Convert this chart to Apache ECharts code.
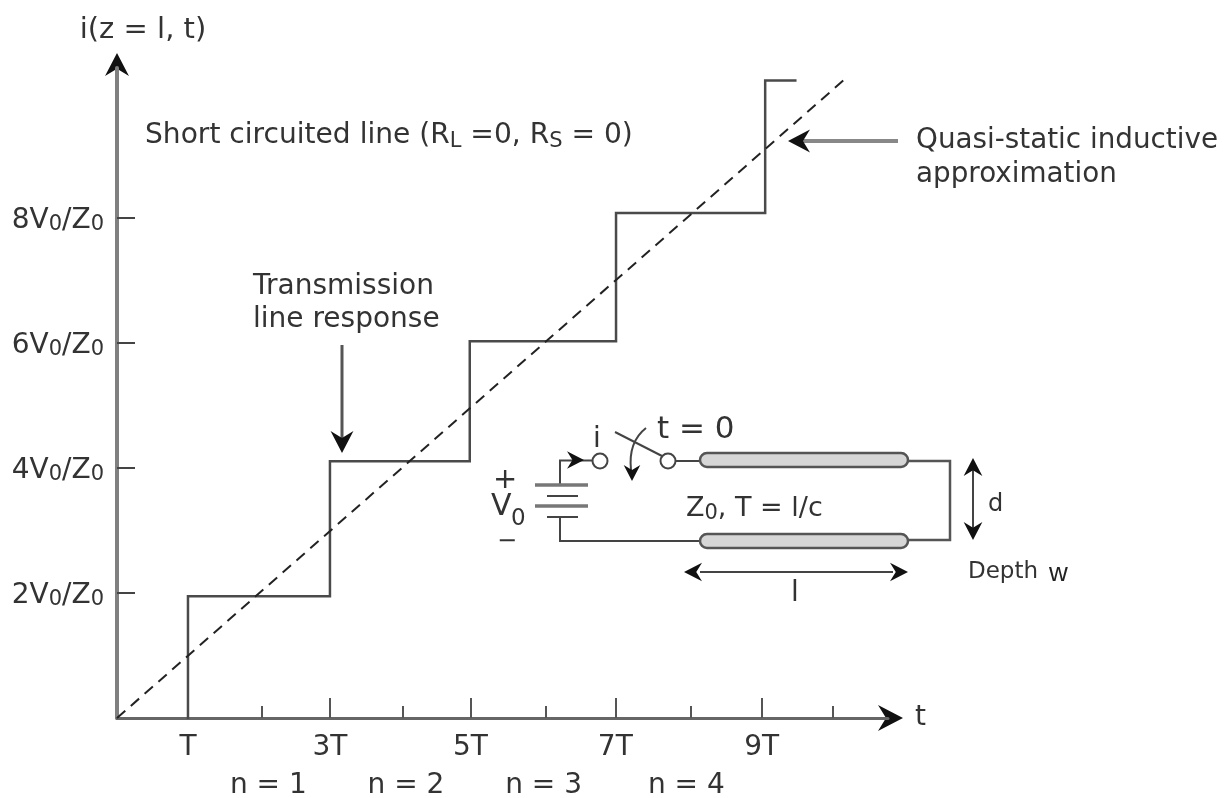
<!DOCTYPE html>
<html>
<head>
<meta charset="utf-8">
<title>i(z = l, t)</title>
<script src="https://cdn.jsdelivr.net/npm/echarts@6/dist/echarts.min.js"></script>
<style>
    html,body{margin:0;padding:0;background:#fff;}
    #main{width:1230px;height:798px;}
</style>
</head>
<body>
<div id="main"></div>
<script>
// tick positions and labels (the original ticks are not quite even)
var xMajorTicks = [0.99, 2.97, 4.93, 6.95, 8.99];
var xMajorLabels = ['T', '3T', '5T', '7T', '9T'];
var xMinorTicks = [2.02, 3.99, 5.98, 8.0, 9.98];
var nPositions = [2.11, 4.03, 5.95, 7.94];
var nLabels = ['n = 1', 'n = 2', 'n = 3', 'n = 4'];
var yTicks = [2, 4, 6, 8];
var yLabels = ['2V{s|0}/Z{s|0}', '4V{s|0}/Z{s|0}', '6V{s|0}/Z{s|0}', '8V{s|0}/Z{s|0}'];

// transmission line response
var stepTimes = [0.99, 0.99, 2.97, 2.97, 4.92, 4.92, 6.96, 6.96, 9.04, 9.04, 9.46];
var stepLevels = [0, 1.95, 1.95, 4.11, 4.11, 6.03, 6.03, 8.08, 8.08, 10.2, 10.2];

// quasi-static approximation
var rampTimes = [0, 10.13];
var rampLevels = [0, 10.2];

var ink = '#444';
var font = '"DejaVu Sans", Verdana, sans-serif';

function zip(xs, ys){
    return xs.map(function(x, i){ return [x, ys[i]]; });
}
function line(points, width, color){
    return {type:'polyline', shape:{points:points}, style:{stroke:color || ink, lineWidth:width || 2, fill:null}};
}
// barbed arrow head, tip at x,y, pointing along angle (radians)
function head(x, y, angle, size){
    var s = size || 22, c = Math.cos(angle), n = Math.sin(angle);
    var pts = [[0,0],[-s,-s*0.52],[-s*0.68,0],[-s,s*0.52]].map(function(p){
        return [x + p[0]*c - p[1]*n, y + p[0]*n + p[1]*c];
    });
    return {type:'polygon', shape:{points:pts}, style:{fill:'#111'}};
}
function label(text, x, y, size, extra){
    var style = {text:text, x:x, y:y, fill:'#333', font:size + 'px ' + font, textVerticalAlign:'middle'};
    return {type:'text', style:Object.assign(style, extra || {})};
}
function rod(x, y, w){
    return {type:'rect', shape:{x:x, y:y-7, width:w, height:14, r:7}, style:{fill:'#d6d6d6', stroke:'#555', lineWidth:2.5}};
}
function node(x, y){
    return {type:'circle', shape:{cx:x, cy:y, r:7.5}, style:{fill:'#fff', stroke:'#444', lineWidth:2}};
}
var subRich = {
    s:{font:'21px ' + font, fill:'#333', lineHeight:17, verticalAlign:'bottom'}
};

var annotations = [
    head(117,53,-Math.PI/2,23),
    head(903,718,0,25),
    label('Short circuited line (R{s|L} =0, R{s|S} = 0)', 145, 136, 28.1, {rich:subRich, lineHeight:32}),
    label('Transmission', 253, 287, 28),
    label('line response', 253, 320, 28),
    label('Quasi-static inductive', 916, 141, 27.8),
    label('approximation', 916, 175, 27.8),
    line([[342,345],[342,440]], 3, '#555'),
    head(342,453,Math.PI/2),
    line([[898,141],[802,141]], 4, '#888'),
    head(788,141,Math.PI),

    // circuit inset
    line([[560,485],[560,460.5],[593,460.5]]),
    head(584,460,0,17),
    line([[560,517],[560,541],[700,541]]),
    line([[676,461],[700,461]]),
    line([[908,461],[950,461],[950,540],[908,540]], 2.5, '#555'),
    line([[535,485],[588,485]], 3.5, '#777'),
    line([[547,496],[578,496]]),
    line([[535,506],[588,506]], 3.5, '#777'),
    line([[547,517],[578,517]]),
    rod(700,460,208),
    rod(700,541,208),
    node(600,461),
    node(668,461),
    line([[615,432],[662,456]]),
    {type:'bezierCurve', shape:{x1:646,y1:428,cpx1:628,cpy1:442,x2:631,y2:470}, style:{stroke:ink,lineWidth:2,fill:null}},
    head(632,481,Math.PI/2,16),
    label('i', 593, 440, 28),
    label('t = 0', 657, 430, 31),
    label('+', 493, 480, 29),
    label('V', 491, 507, 30),
    label('0', 511, 519, 23),
    label('\u2212', 497, 542, 24),
    label('Z{s|0}, T = l/c', 686, 509, 27, {rich:subRich, lineHeight:30}),
    line([[973,470],[973,528]]),
    head(973,458,-Math.PI/2,18),
    head(973,540,Math.PI/2,18),
    label('d', 988, 505, 24),
    line([[700,572],[893,572]]),
    head(684,572,Math.PI,18),
    head(908,572,0,18),
    label('l', 791, 594, 28),
    label('Depth', 968, 572, 23),
    label('w', 1049, 574, 26, {font:'26px "Liberation Sans", sans-serif', fill:'#222'})
];

var myChart = echarts.init(document.getElementById('main'));
myChart.setOption({
    animation:false,
    backgroundColor:'#fff',
    // the axes stop inside the arrow heads drawn in annotations
    grid:{left:117, top:68, width:771, height:650, outerBoundsMode:'none'},
    textStyle:{fontFamily:font},
    xAxis:[{
        type:'value', position:'bottom', min:0, max:10.753,
        name:'t', nameLocation:'end', nameGap:27,
        nameTextStyle:{fontSize:28, color:'#333', padding:[16,0,0,0]},
        splitLine:{show:false},
        axisLine:{show:true, onZero:false, lineStyle:{color:'#666', width:3}},
        axisTick:{show:true, inside:true, length:20, customValues:xMajorTicks, lineStyle:{color:'#555', width:2}},
        axisLabel:{show:true, customValues:xMajorTicks, margin:16, fontSize:28, color:'#333',
            formatter:function(v){ return xMajorLabels[xMajorTicks.indexOf(v)] || ''; }}
    },{
        type:'value', position:'bottom', min:0, max:10.753,
        splitLine:{show:false},
        axisLine:{show:false},
        axisTick:{show:true, inside:true, length:12, customValues:xMinorTicks, lineStyle:{color:'#555', width:2}},
        axisLabel:{show:false}
    },{
        type:'value', position:'bottom', min:0, max:10.753,
        splitLine:{show:false},
        axisLine:{show:false},
        axisTick:{show:false},
        axisLabel:{show:true, customValues:nPositions, margin:54, fontSize:28, color:'#333',
            formatter:function(v){ return nLabels[nPositions.indexOf(v)] || ''; }}
    }],
    yAxis:{
        type:'value', min:0, max:10.4,
        name:'i(z = l, t)', nameLocation:'end', nameGap:23,
        nameTextStyle:{fontSize:29, color:'#333', padding:[0,0,0,52]},
        splitLine:{show:false},
        axisLine:{show:true, onZero:false, lineStyle:{color:'#808080', width:4}},
        axisTick:{show:true, inside:true, length:18, customValues:yTicks, lineStyle:{color:'#444', width:2}},
        axisLabel:{show:true, customValues:yTicks, margin:13, padding:[5,0,0,0],
            formatter:function(v){ return yLabels[yTicks.indexOf(v)] || ''; },
            fontSize:28, color:'#333', lineHeight:30,
            rich:{s:{fontSize:21, color:'#333', lineHeight:17, verticalAlign:'bottom'}}}
    },
    series:[{
        name:'Transmission line response', type:'line', symbol:'none',
        data:zip(stepTimes, stepLevels),
        lineStyle:{color:'#4a4a4a', width:2.5, cap:'square', join:'miter'}
    },{
        name:'Quasi-static inductive approximation', type:'line', symbol:'none',
        data:zip(rampTimes, rampLevels),
        lineStyle:{color:'#222', width:2, type:[11,7.37]}
    }],
    graphic:{elements:annotations}
});
</script>
</body>
</html>
